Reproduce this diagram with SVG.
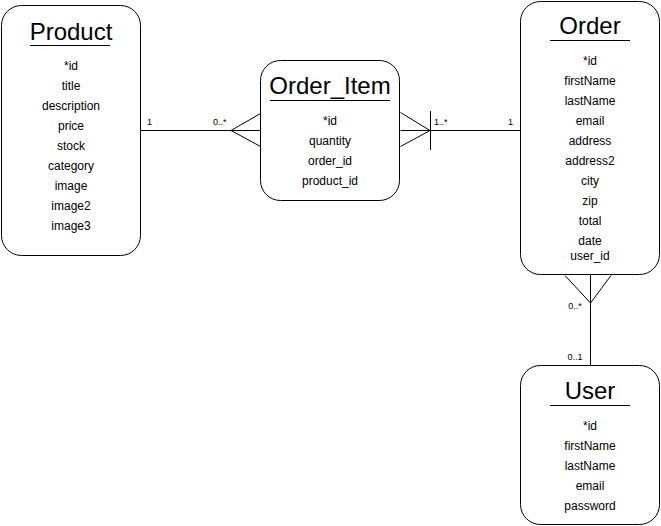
<svg xmlns="http://www.w3.org/2000/svg" width="661" height="526" viewBox="0 0 661 526">
<style>
.box{fill:#fff;stroke:#000;stroke-width:1}
.ln{fill:none;stroke:#000;stroke-width:1}
.t{font-family:"Liberation Sans",Arial,sans-serif;font-size:24px;text-anchor:middle;fill:#000}
.f{font-family:"Liberation Sans",Arial,sans-serif;font-size:12px;text-anchor:middle;fill:#000}
.l{font-family:"Liberation Sans",Arial,sans-serif;font-size:9px;fill:#000}
</style>
<rect width="661" height="526" fill="#fff"/>
<g id="connectors">
<path class="ln" d="M140.5 130.5H260.5M260.5 113.5L231 130.5L260.5 146.5"/>
<text class="l" x="147" y="125">1</text>
<text class="l" x="213" y="125">0..*</text>
<path class="ln" d="M400.5 112.5L430 130.5L400.5 146.5M400.5 130.5H520.5M430.5 111V150"/>
<text class="l" x="434" y="125">1..*</text>
<text class="l" x="508" y="125">1</text>
<path class="ln" d="M590.5 275V365M565 275.5L590.5 303L611 275.5"/>
<text class="l" x="575" y="309" text-anchor="middle">0..*</text>
<text class="l" x="575" y="360" text-anchor="middle">0..1</text>
</g>
<g id="product">
<rect class="box" x="1.5" y="5.5" width="139" height="250" rx="20"/>
<text class="t" x="71" y="40">Product</text>
<path class="ln" d="M30 45.5H110"/>
<text class="f" x="71" y="70">*id</text>
<text class="f" x="71" y="90">title</text>
<text class="f" x="71" y="110">description</text>
<text class="f" x="71" y="130">price</text>
<text class="f" x="71" y="150">stock</text>
<text class="f" x="71" y="170">category</text>
<text class="f" x="71" y="190">image</text>
<text class="f" x="71" y="210">image2</text>
<text class="f" x="71" y="230">image3</text>
</g>
<g id="order_item">
<rect class="box" x="260.5" y="60.5" width="139" height="140" rx="20"/>
<text class="t" x="330" y="94">Order_Item</text>
<path class="ln" d="M270 100.5H390"/>
<text class="f" x="330" y="125">*id</text>
<text class="f" x="330" y="145">quantity</text>
<text class="f" x="330" y="165">order_id</text>
<text class="f" x="330" y="185">product_id</text>
</g>
<g id="order">
<rect class="box" x="520.5" y="1.5" width="139" height="273" rx="20"/>
<text class="t" x="590" y="34">Order</text>
<path class="ln" d="M550 40.5H630"/>
<text class="f" x="590" y="65">*id</text>
<text class="f" x="590" y="85">firstName</text>
<text class="f" x="590" y="105">lastName</text>
<text class="f" x="590" y="125">email</text>
<text class="f" x="590" y="145">address</text>
<text class="f" x="590" y="165">address2</text>
<text class="f" x="590" y="185">city</text>
<text class="f" x="590" y="205">zip</text>
<text class="f" x="590" y="225">total</text>
<text class="f" x="590" y="245">date</text>
<text class="f" x="590" y="260">user_id</text>
</g>
<g id="user">
<rect class="box" x="520.5" y="365.5" width="139" height="159" rx="20"/>
<text class="t" x="590" y="399">User</text>
<path class="ln" d="M550 405.5H630"/>
<text class="f" x="590" y="430">*id</text>
<text class="f" x="590" y="450">firstName</text>
<text class="f" x="590" y="470">lastName</text>
<text class="f" x="590" y="490">email</text>
<text class="f" x="590" y="510">password</text>
</g>
</svg>
